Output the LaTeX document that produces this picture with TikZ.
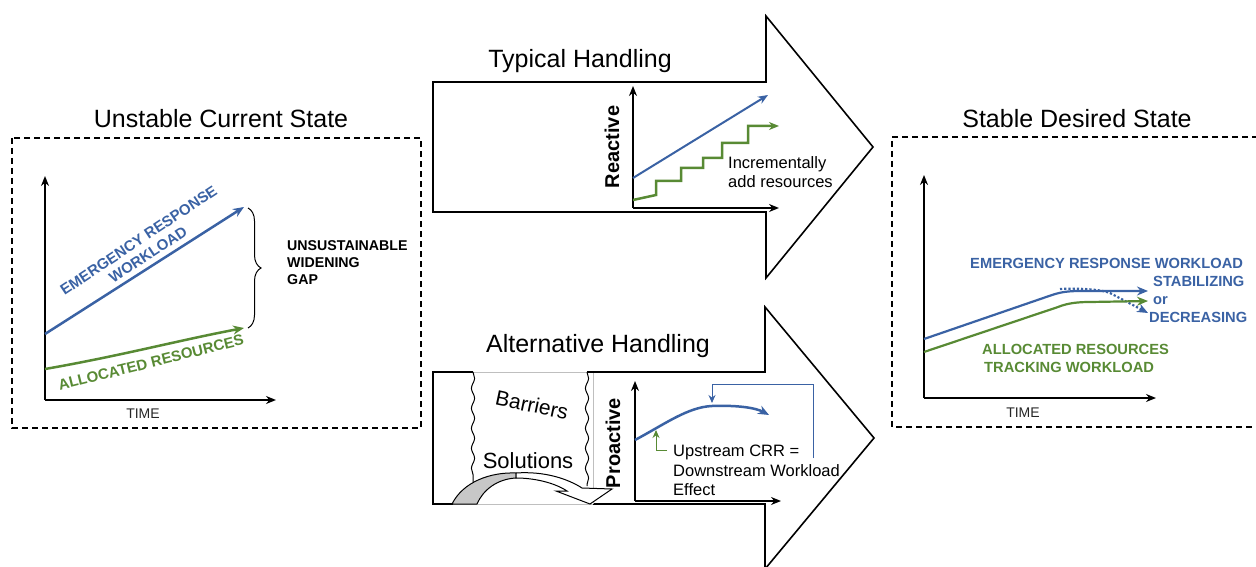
\documentclass[tikz,border=0pt]{standalone}
\usepackage{fontspec}
\setmainfont{Liberation Sans}
\usetikzlibrary{arrows.meta,decorations.pathreplacing,decorations.pathmorphing}
\definecolor{ublue}{RGB}{58,98,164}
\definecolor{ugreen}{RGB}{88,138,52}
\begin{document}
\begin{tikzpicture}[x=1pt,y=-1pt,
  title/.style={font=\fontsize{25}{30}\selectfont, inner sep=0pt, anchor=base},
  bigtxt/.style={font=\fontsize{22}{26}\selectfont, inner sep=0pt},
  axlab/.style={font=\fontsize{20}{24}\selectfont\bfseries, inner sep=0pt, rotate=90},
  small/.style={font=\fontsize{16.5}{20}\selectfont, inner sep=0pt, anchor=base west},
  caps/.style={font=\fontsize{14.7}{17}\selectfont\bfseries, inner sep=0pt},
  timelab/.style={font=\fontsize{14}{17}\selectfont, inner sep=0pt, anchor=base, text=black!85},
  axis/.style={line width=2.2pt, -{Stealth[length=10pt,width=8pt]}},
  dbox/.style={line width=1.4pt, dash pattern=on 6pt off 4pt},
  bline/.style={ublue, line width=2.5pt, -{Stealth[length=11pt,width=9pt]}},
  gline/.style={ugreen, line width=2.5pt, -{Stealth[length=11pt,width=9pt]}},
  bigarrow/.style={draw=black, line width=1.6pt, fill=white, line join=miter},
  wavy/.style={line width=1pt, decorate, decoration={snake, amplitude=1.6pt, segment length=20pt}}
]
\useasboundingbox (0,0) rectangle (1256,567);
\clip (0,0) rectangle (1256,567);

% ---------------- Left: Unstable Current State ----------------
\node[title] (t1) at (221,128) {Unstable Current State};
\draw[dbox] (12,138) rectangle (421,428);
\coordinate (o1) at (45,400);
\coordinate (y1) at (45,176);
\coordinate (x1) at (276,400);
\draw[axis] (o1) -- (y1);
\draw[axis] (o1) -- (x1);
\node[timelab] (time1) at (143,418) {TIME};
\coordinate (b1s) at (45,334);
\coordinate (b1e) at (244,207);
\coordinate (g1s) at (45,369);
\coordinate (g1e) at (244,328);
\draw[bline] (b1s) -- (b1e);
\draw[gline] (g1s) .. controls (120,356) and (180,340) .. (g1e);
\node[caps, text=ublue, rotate=33.5, align=center, font=\fontsize{15}{17}\selectfont\bfseries] (er1) at (143.3,247.5) {EMERGENCY RESPONSE\\WORKLOAD};
\node[caps, text=ugreen, rotate=14, font=\fontsize{15}{18}\selectfont\bfseries] (ar1) at (151,362.5) {ALLOCATED RESOURCES};
\coordinate (brt) at (248,208);
\coordinate (brb) at (248,328);
\draw[line width=1pt, decorate, decoration={brace, amplitude=13pt}] (brt) -- (brb);
\node[caps, anchor=base west, font=\fontsize{14.2}{17}\selectfont\bfseries] (gap1) at (287,250) {UNSUSTAINABLE};
\node[caps, anchor=base west, font=\fontsize{14.2}{17}\selectfont\bfseries] (gap2) at (287,267) {WIDENING};
\node[caps, anchor=base west, font=\fontsize{14.2}{17}\selectfont\bfseries] (gap3) at (287,284) {GAP};

% ---------------- Middle top: Typical Handling ----------------
\node[title] (t2) at (580,68) {Typical Handling};
\draw[bigarrow] (433,82) -- (766,82) -- (766,16) -- (873,147) -- (766,278) -- (766,212) -- (433,212) -- cycle;
\coordinate (o2) at (633,208);
\draw[axis] (o2) -- (633,86);
\draw[axis] (o2) -- (779,208);
\node[axlab] (react) at (612,147) {Reactive};
\draw[ublue, line width=2pt, -{Stealth[length=10pt,width=8pt]}] (633,178) -- (768,95);
\draw[ugreen, line width=2.5pt, -{Stealth[length=10pt,width=8pt]}]
  (633,200) -- (656,195) -- (656,181) -- (681,181) -- (681,168) -- (703,168) -- (703,158)
  -- (722,158) -- (722,143) -- (748,143) -- (748,126) -- (779,126);
\node[small] (inc1) at (728,168) {Incrementally};
\node[small] (inc2) at (728,187) {add resources};

% ---------------- Middle bottom: Alternative Handling ----------------
\node[title] (t3) at (598,352) {Alternative Handling};
\draw[bigarrow] (433,372) -- (765,372) -- (765,307) -- (874,438) -- (765,569) -- (765,504) -- (433,504) -- cycle;
% torn piece
\fill[white] (473,369) rectangle (593,507);
\draw[black!25, line width=1pt] (473,372) -- (588,372);
\draw[black!25, line width=1pt] (593,372) -- (593,504);
\draw[black!25, line width=1pt] (453,504) -- (593,504);
\draw[black, line width=1.6pt] (587,372) -- (594,372);
\draw[wavy] (473,372) -- (473,482);
\draw[wavy] (587,372) -- (587,486);
\node[bigtxt, rotate=-12, font=\fontsize{21}{25}\selectfont] (barr) at (532,405) {Barriers};
\node[bigtxt] (sol) at (528,461) {Solutions};
% curved block arrow
\draw[line width=1pt, fill=black!22, line join=round]
  (452,504) .. controls (463,482) and (490,472) .. (516,473) -- (516,478)
  .. controls (497,479) and (483,490) .. (477,504) -- cycle;
\draw[line width=1pt, fill=white, line join=miter]
  (516,473) .. controls (545,471) and (568,479) .. (582,488) -- (612,489) -- (590,504)
  -- (556,491) -- (567,491) .. controls (555,483) and (535,478) .. (516,478) -- cycle;
% chart
\coordinate (o3) at (635,501);
\draw[axis] (o3) -- (635,381);
\draw[axis] (o3) -- (781,501);
\node[axlab] (proact) at (613,443) {Proactive};
\draw[ublue, line width=2.5pt, -{Stealth[length=11pt,width=9pt]}]
  (635,440) .. controls (665,424) and (688,407) .. (712,406) .. controls (738,405) and (756,408) .. (769,415);
\coordinate (fb1) at (813,458);
\coordinate (fb2) at (813,384);
\coordinate (fb3) at (712,384);
\draw[ublue, line width=1pt, -{Stealth[length=8pt,width=7pt]}] (fb1) -- (fb2) -- (fb3) -- (712,403);
\draw[ugreen, line width=1pt, -{Stealth[length=8pt,width=7pt]}] (667,450) -- (656,450) -- (656,430);
\node[small] (up1) at (673,456) {Upstream CRR =};
\node[small] (up2) at (673,476) {Downstream Workload};
\node[small] (up3) at (673,495) {Effect};

% ---------------- Right: Stable Desired State ----------------
\node[title] (t4) at (1077,128) {Stable Desired State};
\draw[dbox] (1258,137) -- (892,137) -- (892,427) -- (1258,427);
\coordinate (o4) at (924,398);
\draw[axis] (o4) -- (924,175);
\draw[axis] (o4) -- (1156,398);
\node[timelab] (time4) at (1023,417) {TIME};
\draw[ublue, line width=2.2pt, -{Stealth[length=11pt,width=9pt]}]
  (924,339) -- (1052,295) .. controls (1064,291) and (1072,291) .. (1085,291) -- (1148,291);
\draw[ublue, line width=2.2pt, dotted, -{Stealth[length=11pt,width=9pt]}]
  (1060,289) .. controls (1075,288) and (1100,289) .. (1110,293) -- (1148,313);
\draw[ugreen, line width=2.2pt, -{Stealth[length=11pt,width=9pt]}]
  (924,352) -- (1058,307) .. controls (1068,303) and (1078,302) .. (1090,302) -- (1148,301);
\node[caps, text=ublue, anchor=base west] (er4) at (970,268) {EMERGENCY RESPONSE WORKLOAD};
\node[caps, text=ublue, anchor=base west] (st4) at (1153,286) {STABILIZING};
\node[caps, text=ublue, anchor=base west] (or4) at (1153,304) {or};
\node[caps, text=ublue, anchor=base west] (de4) at (1149,322) {DECREASING};
\node[caps, text=ugreen, anchor=base west] (ar4) at (982,354) {ALLOCATED RESOURCES};
\node[caps, text=ugreen, anchor=base west] (tr4) at (984,372) {TRACKING WORKLOAD};
\end{tikzpicture}
\end{document}
